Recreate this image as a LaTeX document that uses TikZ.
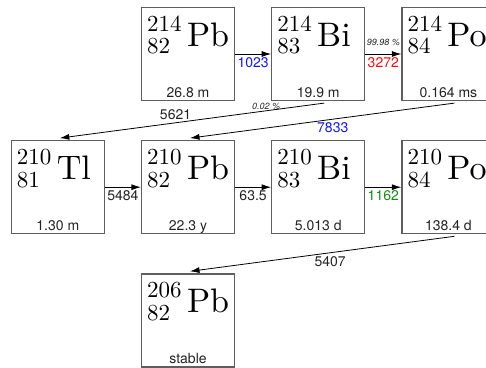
\documentclass[tikz,border=0pt]{standalone}
\usepackage{fontspec}
\setsansfont{TeX Gyre Heros}
\newfontfamily\nucfont{lmroman10-regular.otf}
\usepackage{tikz}
\usetikzlibrary{arrows.meta, positioning}
\definecolor{boxgray}{RGB}{95,95,95}
\definecolor{txtdark}{RGB}{35,35,35}
\definecolor{eblue}{RGB}{20,20,255}
\definecolor{ered}{RGB}{255,10,10}
\definecolor{egreen}{RGB}{20,140,20}
\tikzset{
  nucbox/.style={rectangle, draw=boxgray, line width=1.2pt,
    minimum size=93pt, inner sep=0pt},
  nucnum/.style={anchor=base west, inner sep=0pt,
    font=\nucfont\fontsize{23}{26}\selectfont},
  nucsym/.style={anchor=base west, inner sep=0pt,
    font=\nucfont\fontsize{34}{40}\selectfont},
  halflife/.style={anchor=base, inner sep=0pt, text=txtdark,
    font=\sffamily\fontsize{14}{16}\selectfont},
  decay/.style={-{Latex[length=9.5pt,width=6pt]}, line width=0.8pt, color=black},
  energy/.style={text=txtdark, font=\sffamily\fontsize{14}{16}\selectfont},
  branch/.style={text=txtdark, inner sep=1pt,
    font=\sffamily\itshape\fontsize{9}{10}\selectfont}
}

\begin{document}
\begin{tikzpicture}[x=1pt, y=1pt, node distance=39pt and 36pt]
  \useasboundingbox (0,0) rectangle (486,-367);

  % nuclide boxes
  \node[nucbox] (pb214) at (188,-54) {};
  \node[nucbox, right=of pb214] (bi214) {};
  \node[nucbox, right=of bi214] (po214) {};
  \node[nucbox, below=of pb214] (pb210) {};
  \node[nucbox, left=of pb210] (tl210) {};
  \node[nucbox, right=of pb210] (bi210) {};
  \node[nucbox, right=of bi210] (po210) {};
  \node[nucbox, below=of pb210] (pb206) {};

  % mass number, atomic number, element, half-life
  \foreach \n/\a/\z/\el/\t in {pb214/214/82/Pb/26.8 m, bi214/214/83/Bi/19.9 m,
      po214/214/84/Po/0.164 ms, tl210/210/81/Tl/1.30 m, pb210/210/82/Pb/22.3 y,
      bi210/210/83/Bi/5.013 d, po210/210/84/Po/138.4 d, pb206/206/82/Pb/stable} {
    \node[nucnum] (\n-a) at ([shift={(6,-24.5)}]\n.north west) {\a};
    \node[nucnum] (\n-z) at ([shift={(6,-47)}]\n.north west) {\z};
    \node[nucsym] (\n-el) at ([shift={(5,-15)}]\n-a.base east) {\el};
    \node[halflife] (\n-t) at ([yshift=4pt]\n.south) {\t};
  }

  % decays
  \draw[decay] (pb214) -- node[energy, below, text=eblue] {1023} (bi214);
  \draw[decay] (bi214) -- node[branch, above, yshift=7pt] {99.98 \%}
    node[energy, below, text=ered] {3272} (po214);
  \draw[decay] ([shift={(6,-2)}]bi214.south) --
    node[branch, above, pos=0.22] {0.02 \%}
    node[energy, above left, inner sep=0.5pt] {5621} ([shift={(2,2)}]tl210.north);
  \draw[decay] ([shift={(6,-2)}]po214.south) --
    node[energy, below, pos=0.46, text=eblue] {7833} ([shift={(2,2)}]pb210.north);
  \draw[decay] (tl210) -- node[energy, below] {5484} (pb210);
  \draw[decay] (pb210) -- node[energy, below] {63.5} (bi210);
  \draw[decay] (bi210) -- node[energy, below, text=egreen] {1162} (po210);
  \draw[decay] ([shift={(6,-2)}]po210.south) --
    node[energy, below, pos=0.47] {5407} ([shift={(2,2)}]pb206.north);
\end{tikzpicture}
\end{document}
